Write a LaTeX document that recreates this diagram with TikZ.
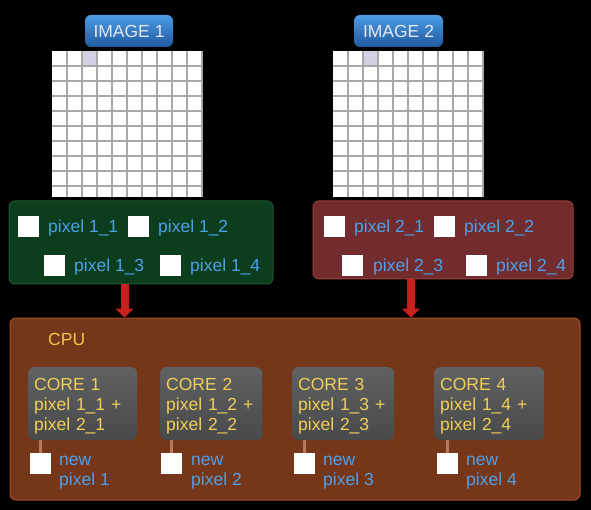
\documentclass[tikz,border=0pt]{standalone}
\usepackage{fontspec}
\setmainfont{Liberation Sans}
\usetikzlibrary{arrows.meta}
\definecolor{btntop}{HTML}{4D9BE6}
\definecolor{btnbot}{HTML}{1F5A9E}
\definecolor{btntext}{HTML}{E6E6F0}
\definecolor{gridline}{HTML}{A8A8A8}
\definecolor{hilite}{HTML}{D2D2E4}
\definecolor{greenfill}{HTML}{0C3D1C}
\definecolor{greenborder}{HTML}{1D5A2C}
\definecolor{redfill}{HTML}{722C2D}
\definecolor{redborder}{HTML}{9C3E3E}
\definecolor{cpufill}{HTML}{763619}
\definecolor{cpuborder}{HTML}{A54F24}
\definecolor{coretop}{HTML}{5F6163}
\definecolor{corebot}{HTML}{47494A}
\definecolor{coretext}{HTML}{F2CF55}
\definecolor{cputext}{HTML}{F0C844}
\definecolor{lblblue}{HTML}{4DA0EA}
\definecolor{linkbrown}{HTML}{B87A5C}
\definecolor{arrowred}{HTML}{C8201D}
\begin{document}
\begin{tikzpicture}[x=1pt,y=-1pt,font=\fontsize{17.5}{20}\selectfont]
        \tikzstyle{button}=[rounded corners=6pt,top color=btntop,bottom color=btnbot,text=btntext,minimum height=32pt,inner sep=0pt]
        \tikzstyle{group}=[rounded corners=6pt,line width=1pt,inner sep=0pt]
        \tikzstyle{pix}=[fill=white,minimum size=21pt,inner sep=0pt]
        \tikzstyle{lbl}=[text=lblblue,anchor=base west,inner sep=0pt]
        \tikzstyle{core}=[rounded corners=6pt,top color=coretop,bottom color=corebot,text=coretext,align=left,minimum height=73pt,inner xsep=6pt,inner ysep=0pt,anchor=north west,execute at begin node={\rule{0pt}{17pt}}]
        \tikzstyle{link}=[draw=linkbrown,line width=3pt]
        \tikzstyle{bigarrow}=[draw=arrowred,line width=8pt,-{Triangle[width=18pt,length=9pt]}]
        \fill[black] (0,0) rectangle (591,510);
        \useasboundingbox (0,0) rectangle (591,510);
       \begin{scope}
         % the two images
         \foreach \gx/\hx in {52/82,333/363} {
           \fill[white] (\gx,51) rectangle ++(150,146);
           \fill[hilite] (\hx,51) rectangle ++(15,15);
           \foreach \i in {1,...,10} \draw[gridline,line width=1.2pt] (\gx+15*\i,51) -- (\gx+15*\i,197);
           \foreach \j in {1,...,9} \draw[gridline,line width=1.2pt] (\gx,51+15*\j) -- (\gx+150,51+15*\j);
         }
         \node [button,minimum width=88pt] (img1) at (129,31) {IMAGE 1};
         \node [button,minimum width=89pt] (img2) at (398.5,31) {IMAGE 2};

         \node [group,fill=greenfill,draw=greenborder,minimum width=264pt,minimum height=83pt] (gbox) at (141,242.5) {};
         \node [group,fill=redfill,draw=redborder,minimum width=260pt,minimum height=78pt] (rbox) at (443,240) {};

         \node [pix] (p11) at (28.5,226.5) {};
         \node [lbl] (l11) at (48,232.7) {pixel 1\_1};
         \node [pix] (p12) at (138.5,226.5) {};
         \node [lbl] (l12) at (158,232.7) {pixel 1\_2};
         \node [pix] (p13) at (54.5,266) {};
         \node [lbl] (l13) at (74,271.5) {pixel 1\_3};
         \node [pix] (p14) at (170.5,266) {};
         \node [lbl] (l14) at (190,271.5) {pixel 1\_4};

         \node [pix] (p21) at (334.5,226.5) {};
         \node [lbl] (l21) at (354,232.7) {pixel 2\_1};
         \node [pix] (p22) at (444.5,226.5) {};
         \node [lbl] (l22) at (464,232.7) {pixel 2\_2};
         \node [pix] (p23) at (352.5,266) {};
         \node [lbl] (l23) at (373,271.5) {pixel 2\_3};
         \node [pix] (p24) at (476.5,266) {};
         \node [lbl] (l24) at (496,271.5) {pixel 2\_4};

         \node [group,fill=cpufill,draw=cpuborder,minimum width=570pt,minimum height=182pt] (cpu) at (295,409) {};
         \node [lbl,text=cputext] (cpulbl) at (48,345) {CPU};

         \path[bigarrow] ([xshift=-16.5pt]gbox.south) -- ([xshift=-16.5pt]gbox.south |- cpu.north);
         \path[bigarrow] ([xshift=-32pt]rbox.south) -- ([xshift=-32pt]rbox.south |- cpu.north);

         \node [core,text width=97pt] (core1) at (28,367) {CORE 1\\pixel 1\_1 +\\pixel 2\_1};
         \node [core,text width=90pt] (core2) at (160,367) {CORE 2\\pixel 1\_2 +\\pixel 2\_2};
         \node [core,text width=90pt] (core3) at (292,367) {CORE 3\\pixel 1\_3 +\\pixel 2\_3};
         \node [core,text width=98pt] (core4) at (434,367) {CORE 4\\pixel 1\_4 +\\pixel 2\_4};

         \node [pix] (new1) at (40.5,463.5) {};
         \node [pix] (new2) at (171.5,463.5) {};
         \node [pix] (new3) at (304.5,463.5) {};
         \node [pix] (new4) at (447.5,463.5) {};
         \node [lbl,align=left] (nl1) at (59,485) {new\\pixel 1};
         \node [lbl,align=left] (nl2) at (191,485) {new\\pixel 2};
         \node [lbl,align=left] (nl3) at (323,485) {new\\pixel 3};
         \node [lbl,align=left] (nl4) at (466,485) {new\\pixel 4};

         \path[link] (core1.south -| new1.north) -- (new1.north);
         \path[link] (core2.south -| new2.north) -- (new2.north);
         \path[link] (core3.south -| new3.north) -- (new3.north);
         \path[link] (core4.south -| new4.north) -- (new4.north);
        \end{scope}
      \end{tikzpicture}
\end{document}
